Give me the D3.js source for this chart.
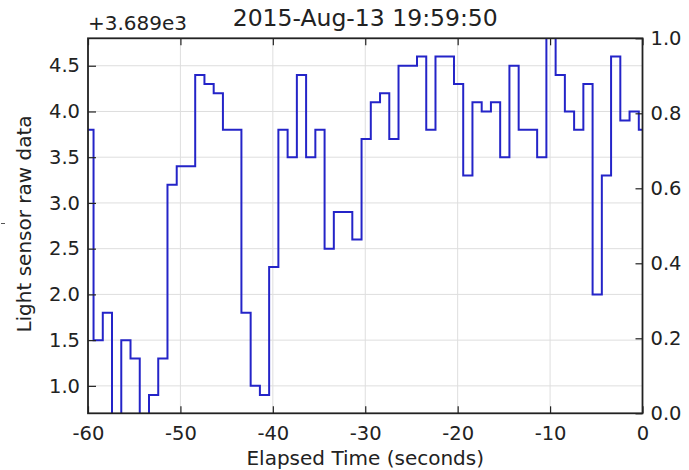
<!DOCTYPE html>
<html>
<head>
<meta charset="utf-8">
<script src="https://cdn.jsdelivr.net/npm/d3@7"></script>
<style>
  html, body { margin: 0; padding: 0; background: #fff; }
  svg { display: block; }
  text { font-family: "DejaVu Sans", sans-serif; fill: #222; }
</style>
</head>
<body>
<svg id="chart" width="689" height="470"></svg>
<script>
// ---- data (left axis values are relative to the offset) ----
const OFFSET = 3689;
const stepStartTimes = [
  -60.4, -59.4, -58.4, -57.4, -56.4, -55.4, -54.4, -53.4, -52.4, -51.4,
  -50.4, -49.4, -48.4, -47.4, -46.4, -45.4, -44.4, -43.4, -42.4, -41.4,
  -40.4, -39.4, -38.4, -37.4, -36.4, -35.4, -34.4, -33.4, -32.4, -31.4,
  -30.4, -29.4, -28.4, -27.4, -26.4, -25.4, -24.4, -23.4, -22.4, -21.4,
  -20.4, -19.4, -18.4, -17.4, -16.4, -15.4, -14.4, -13.4, -12.4, -11.4,
  -10.4, -9.4, -8.4, -7.4, -6.4, -5.4, -4.4, -3.4, -2.4, -1.4,
  -0.4
];
const sensorValues = [
  3.8, 1.5, 1.8, 0.5, 1.5, 1.3, 0.5, 0.9, 1.3, 3.2,
  3.4, 3.4, 4.4, 4.3, 4.2, 3.8, 3.8, 1.8, 1.0, 0.9,
  2.3, 3.8, 3.5, 4.4, 3.5, 3.8, 2.5, 2.9, 2.9, 2.6,
  3.7, 4.1, 4.2, 3.7, 4.5, 4.5, 4.6, 3.8, 4.6, 4.6,
  4.3, 3.3, 4.1, 4.0, 4.1, 3.5, 4.5, 3.8, 3.8, 3.5,
  4.9, 4.4, 4.0, 3.8, 4.3, 2.0, 3.3, 4.6, 3.9, 4.0,
  3.8
];
const xTicks = [-60, -50, -40, -30, -20, -10, 0];
const yLeftTicks = [1.0, 1.5, 2.0, 2.5, 3.0, 3.5, 4.0, 4.5];
const yRightTicks = [0.0, 0.2, 0.4, 0.6, 0.8, 1.0];
const titleText = "2015-Aug-13 19:59:50";
const xLabel = "Elapsed Time (seconds)";
const yLabel = "Light sensor raw data";
const offsetLabel = "+3.689e3";

// ---- layout ----
const W = 689, H = 470;
const L = 88, R = 642.5, T = 38.3, B = 413.3;

const svg = d3.select("#chart");

const x = d3.scaleLinear().domain([-60, 0]).range([L, R]);
const yL = d3.scaleLinear().domain([0.7, 4.8]).range([B, T]);
const yR = d3.scaleLinear().domain([0, 1]).range([B, T]);

// grid
const grid = svg.append("g");
grid.selectAll("line.gx").data(xTicks).join("line")
  .attr("x1", d => x(d)).attr("x2", d => x(d))
  .attr("y1", T).attr("y2", B)
  .attr("stroke", "#dedede").attr("stroke-width", 1);
grid.selectAll("line.gy").data(yLeftTicks).join("line")
  .attr("x1", L).attr("x2", R)
  .attr("y1", d => yL(d)).attr("y2", d => yL(d))
  .attr("stroke", "#dedede").attr("stroke-width", 1);

// data line (step)
svg.append("defs").append("clipPath").attr("id", "clip")
  .append("rect").attr("x", L).attr("y", T).attr("width", R - L).attr("height", B - T);

const pts = stepStartTimes.map((t, i) => [t, sensorValues[i]]);
pts.push([stepStartTimes[stepStartTimes.length - 1] + 1, sensorValues[sensorValues.length - 1]]);

const line = d3.line()
  .x(d => x(d[0]))
  .y(d => yL(d[1]))
  .curve(d3.curveStepAfter);

svg.append("path")
  .attr("clip-path", "url(#clip)")
  .attr("d", line(pts))
  .attr("fill", "none")
  .attr("stroke", "#2424c8")
  .attr("stroke-width", 2)
  .attr("stroke-linejoin", "miter");

// axes
const fmt1 = d3.format(".1f");
const axisStyle = g => {
  g.select(".domain").remove();
  g.selectAll(".tick line").attr("stroke", "#222").attr("stroke-width", 1.2);
  g.selectAll(".tick text").attr("font-size", 19.5).attr("fill", "#222")
    .style("font-family", "DejaVu Sans");
};

svg.append("g").attr("transform", `translate(0,${B})`)
  .call(d3.axisBottom(x).tickValues(xTicks).tickSize(-7).tickPadding(12.5)
    .tickFormat(d => String(d)))
  .call(axisStyle);

svg.append("g").attr("transform", `translate(0,${T})`)
  .call(d3.axisTop(x).tickValues(xTicks).tickSize(-7).tickFormat(""))
  .call(axisStyle);

svg.append("g").attr("transform", `translate(${L},0)`)
  .call(d3.axisLeft(yL).tickValues(yLeftTicks).tickSize(-8).tickPadding(8)
    .tickFormat(fmt1))
  .call(axisStyle);

svg.append("g").attr("transform", `translate(${R},0)`)
  .call(d3.axisRight(yR).tickValues(yRightTicks).tickSize(-7).tickPadding(8)
    .tickFormat(fmt1))
  .call(axisStyle);

// frame
svg.append("rect")
  .attr("x", L).attr("y", T).attr("width", R - L).attr("height", B - T)
  .attr("fill", "none").attr("stroke", "#222").attr("stroke-width", 1.8);

// texts
svg.append("text").attr("x", (L + R) / 2).attr("y", 26)
  .attr("text-anchor", "middle").attr("font-size", 23.5).text(titleText);

svg.append("text").attr("x", L).attr("y", 30)
  .attr("font-size", 20).text(offsetLabel);

svg.append("text").attr("x", (L + R) / 2).attr("y", 465)
  .attr("text-anchor", "middle").attr("font-size", 20).text(xLabel);

svg.append("text")
  .attr("transform", `translate(31,${224}) rotate(-90)`)
  .attr("text-anchor", "middle").attr("font-size", 20).text(yLabel);

// small stray mark at far left
svg.append("line").attr("x1", 1).attr("x2", 5).attr("y1", 223.5).attr("y2", 223.5)
  .attr("stroke", "#555").attr("stroke-width", 1);
</script>
</body>
</html>
